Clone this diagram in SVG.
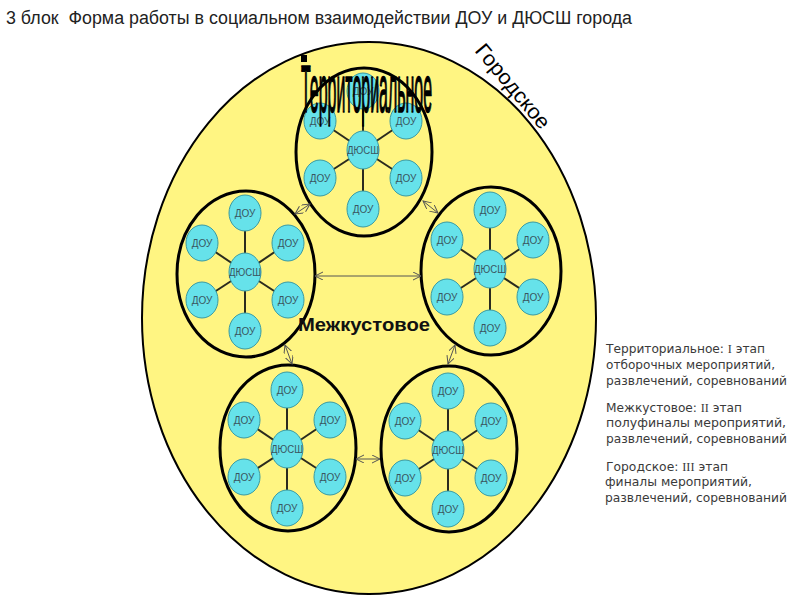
<svg xmlns="http://www.w3.org/2000/svg" width="800" height="600" viewBox="0 0 800 600">
<defs>
<style>
.bg{fill:#ffffff}
.city{fill:#fff582;stroke:#000;stroke-width:2}
.cluster{fill:#fff582;stroke:#000;stroke-width:3}
.node ellipse{fill:#66e2ea;stroke:#3a9aa2;stroke-width:1}
.node text{font-family:"Liberation Sans",Arial,sans-serif;font-size:10px;fill:#3a5560;text-anchor:middle}
.spoke{stroke:#2b2b1e;stroke-width:2}
.arrow{stroke:#555;stroke-width:1;fill:none;marker-start:url(#ah);marker-end:url(#ah)}
.legend{font-family:"DejaVu Sans",Verdana,sans-serif;font-size:12px;fill:#3a3a3a}
.rn{font-family:"Liberation Serif","Times New Roman",serif}
</style>
<marker id="ah" markerWidth="9" markerHeight="9" refX="8" refY="4" orient="auto-start-reverse" markerUnits="userSpaceOnUse">
<path d="M0,0 L8,4 L0,8" fill="none" stroke="#555" stroke-width="1"/>
</marker>
</defs>
<rect class="bg" x="0" y="0" width="800" height="600"/>
<text x="6" y="24" xml:space="preserve" font-family="Liberation Sans,Arial,sans-serif" font-size="18" fill="#222" textLength="626" lengthAdjust="spacingAndGlyphs">3 блок  Форма работы в социальном взаимодействии ДОУ и ДЮСШ города</text>

<g id="city">
<ellipse class="city" cx="369" cy="318" rx="227" ry="276"/>
</g>

<g id="clusters">
<ellipse id="cluster-top" class="cluster" cx="364" cy="152" rx="68" ry="84"/>
<ellipse id="cluster-left" class="cluster" cx="246" cy="274" rx="69" ry="83"/>
<ellipse id="cluster-right" class="cluster" cx="491" cy="271" rx="70" ry="84"/>
<ellipse id="cluster-bl" class="cluster" cx="288" cy="448" rx="68" ry="83"/>
<ellipse id="cluster-br" class="cluster" cx="449" cy="449" rx="68" ry="83"/>
</g>

<g id="connectors">
<g class="spokes">
<line class="spoke" x1="363" y1="150" x2="363" y2="91"/>
<line class="spoke" x1="363" y1="150" x2="320" y2="121"/>
<line class="spoke" x1="363" y1="150" x2="406" y2="121"/>
<line class="spoke" x1="363" y1="150" x2="320" y2="178"/>
<line class="spoke" x1="363" y1="150" x2="406" y2="178"/>
<line class="spoke" x1="363" y1="150" x2="363" y2="209"/>

<line class="spoke" x1="245" y1="272" x2="245" y2="213"/>
<line class="spoke" x1="245" y1="272" x2="202" y2="243"/>
<line class="spoke" x1="245" y1="272" x2="288" y2="243"/>
<line class="spoke" x1="245" y1="272" x2="202" y2="300"/>
<line class="spoke" x1="245" y1="272" x2="288" y2="300"/>
<line class="spoke" x1="245" y1="272" x2="245" y2="331"/>

<line class="spoke" x1="490" y1="269" x2="490" y2="210"/>
<line class="spoke" x1="490" y1="269" x2="447" y2="240"/>
<line class="spoke" x1="490" y1="269" x2="533" y2="240"/>
<line class="spoke" x1="490" y1="269" x2="447" y2="297"/>
<line class="spoke" x1="490" y1="269" x2="533" y2="297"/>
<line class="spoke" x1="490" y1="269" x2="490" y2="328"/>

<line class="spoke" x1="287" y1="449" x2="287" y2="390"/>
<line class="spoke" x1="287" y1="449" x2="244" y2="420"/>
<line class="spoke" x1="287" y1="449" x2="330" y2="420"/>
<line class="spoke" x1="287" y1="449" x2="244" y2="477"/>
<line class="spoke" x1="287" y1="449" x2="330" y2="477"/>
<line class="spoke" x1="287" y1="449" x2="287" y2="508"/>

<line class="spoke" x1="448" y1="450" x2="448" y2="391"/>
<line class="spoke" x1="448" y1="450" x2="405" y2="421"/>
<line class="spoke" x1="448" y1="450" x2="491" y2="421"/>
<line class="spoke" x1="448" y1="450" x2="405" y2="478"/>
<line class="spoke" x1="448" y1="450" x2="491" y2="478"/>
<line class="spoke" x1="448" y1="450" x2="448" y2="509"/>
</g>
<g class="arrows">
<line class="arrow" x1="295" y1="214" x2="310" y2="204"/>
<line class="arrow" x1="423" y1="201" x2="438" y2="213"/>
<line class="arrow" x1="315" y1="276" x2="421" y2="276"/>
<line class="arrow" x1="285" y1="345" x2="292" y2="364"/>
<line class="arrow" x1="455" y1="345" x2="448" y2="364"/>
<line class="arrow" x1="356" y1="459" x2="380" y2="459"/>
</g>
</g>

<g id="nodes-top">
<g id="t-dou-1" class="node" transform="translate(363,91)"><ellipse rx="16" ry="18"/><text y="4">ДОУ</text></g>
<g id="t-dou-2" class="node" transform="translate(320,121)"><ellipse rx="16" ry="18"/><text y="4">ДОУ</text></g>
<g id="t-dou-3" class="node" transform="translate(406,121)"><ellipse rx="16" ry="18"/><text y="4">ДОУ</text></g>
<g id="t-dyussh" class="node" transform="translate(363,150)"><ellipse rx="16" ry="19"/><text y="4" textLength="32" lengthAdjust="spacingAndGlyphs">ДЮСШ</text></g>
<g id="t-dou-4" class="node" transform="translate(320,178)"><ellipse rx="16" ry="18"/><text y="4">ДОУ</text></g>
<g id="t-dou-5" class="node" transform="translate(406,178)"><ellipse rx="16" ry="18"/><text y="4">ДОУ</text></g>
<g id="t-dou-6" class="node" transform="translate(363,209)"><ellipse rx="16" ry="18"/><text y="4">ДОУ</text></g>
</g>

<g id="nodes-left">
<g id="l-dou-1" class="node" transform="translate(245,213)"><ellipse rx="16" ry="18"/><text y="4">ДОУ</text></g>
<g id="l-dou-2" class="node" transform="translate(202,243)"><ellipse rx="16" ry="18"/><text y="4">ДОУ</text></g>
<g id="l-dou-3" class="node" transform="translate(288,243)"><ellipse rx="16" ry="18"/><text y="4">ДОУ</text></g>
<g id="l-dyussh" class="node" transform="translate(245,272)"><ellipse rx="16" ry="19"/><text y="4" textLength="32" lengthAdjust="spacingAndGlyphs">ДЮСШ</text></g>
<g id="l-dou-4" class="node" transform="translate(202,300)"><ellipse rx="16" ry="18"/><text y="4">ДОУ</text></g>
<g id="l-dou-5" class="node" transform="translate(288,300)"><ellipse rx="16" ry="18"/><text y="4">ДОУ</text></g>
<g id="l-dou-6" class="node" transform="translate(245,331)"><ellipse rx="16" ry="18"/><text y="4">ДОУ</text></g>
</g>

<g id="nodes-right">
<g id="r-dou-1" class="node" transform="translate(490,210)"><ellipse rx="16" ry="18"/><text y="4">ДОУ</text></g>
<g id="r-dou-2" class="node" transform="translate(447,240)"><ellipse rx="16" ry="18"/><text y="4">ДОУ</text></g>
<g id="r-dou-3" class="node" transform="translate(533,240)"><ellipse rx="16" ry="18"/><text y="4">ДОУ</text></g>
<g id="r-dyussh" class="node" transform="translate(490,269)"><ellipse rx="16" ry="19"/><text y="4" textLength="32" lengthAdjust="spacingAndGlyphs">ДЮСШ</text></g>
<g id="r-dou-4" class="node" transform="translate(447,297)"><ellipse rx="16" ry="18"/><text y="4">ДОУ</text></g>
<g id="r-dou-5" class="node" transform="translate(533,297)"><ellipse rx="16" ry="18"/><text y="4">ДОУ</text></g>
<g id="r-dou-6" class="node" transform="translate(490,328)"><ellipse rx="16" ry="18"/><text y="4">ДОУ</text></g>
</g>

<g id="nodes-bottom-left">
<g id="bl-dou-1" class="node" transform="translate(287,390)"><ellipse rx="16" ry="18"/><text y="4">ДОУ</text></g>
<g id="bl-dou-2" class="node" transform="translate(244,420)"><ellipse rx="16" ry="18"/><text y="4">ДОУ</text></g>
<g id="bl-dou-3" class="node" transform="translate(330,420)"><ellipse rx="16" ry="18"/><text y="4">ДОУ</text></g>
<g id="bl-dyussh" class="node" transform="translate(287,449)"><ellipse rx="16" ry="19"/><text y="4" textLength="32" lengthAdjust="spacingAndGlyphs">ДЮСШ</text></g>
<g id="bl-dou-4" class="node" transform="translate(244,477)"><ellipse rx="16" ry="18"/><text y="4">ДОУ</text></g>
<g id="bl-dou-5" class="node" transform="translate(330,477)"><ellipse rx="16" ry="18"/><text y="4">ДОУ</text></g>
<g id="bl-dou-6" class="node" transform="translate(287,508)"><ellipse rx="16" ry="18"/><text y="4">ДОУ</text></g>
</g>

<g id="nodes-bottom-right">
<g id="br-dou-1" class="node" transform="translate(448,391)"><ellipse rx="16" ry="18"/><text y="4">ДОУ</text></g>
<g id="br-dou-2" class="node" transform="translate(405,421)"><ellipse rx="16" ry="18"/><text y="4">ДОУ</text></g>
<g id="br-dou-3" class="node" transform="translate(491,421)"><ellipse rx="16" ry="18"/><text y="4">ДОУ</text></g>
<g id="br-dyussh" class="node" transform="translate(448,450)"><ellipse rx="16" ry="19"/><text y="4" textLength="32" lengthAdjust="spacingAndGlyphs">ДЮСШ</text></g>
<g id="br-dou-4" class="node" transform="translate(405,478)"><ellipse rx="16" ry="18"/><text y="4">ДОУ</text></g>
<g id="br-dou-5" class="node" transform="translate(491,478)"><ellipse rx="16" ry="18"/><text y="4">ДОУ</text></g>
<g id="br-dou-6" class="node" transform="translate(448,509)"><ellipse rx="16" ry="18"/><text y="4">ДОУ</text></g>
</g>

<g id="labels">
<rect x="301" y="55" width="6" height="7" fill="#000"/>
<text x="301" y="112" font-family="Liberation Sans,Arial,sans-serif" font-size="66" fill="#000" stroke="#000" stroke-width="1.6" textLength="131" lengthAdjust="spacingAndGlyphs">Территориальное</text>
<text transform="translate(474,51) rotate(50)" font-family="Liberation Sans,Arial,sans-serif" font-size="21" fill="#000" textLength="104" lengthAdjust="spacingAndGlyphs">Городское</text>
<text x="298" y="331" font-family="Liberation Sans,Arial,sans-serif" font-size="18" font-weight="bold" fill="#111" textLength="132" lengthAdjust="spacingAndGlyphs">Межкустовое</text>
</g>

<g id="legend" class="legend">
<text x="606" y="353" textLength="159" lengthAdjust="spacingAndGlyphs">Территориальное: <tspan class="rn">I</tspan> этап</text>
<text x="606" y="369" textLength="169" lengthAdjust="spacingAndGlyphs">отборочных мероприятий,</text>
<text x="606" y="385" textLength="181" lengthAdjust="spacingAndGlyphs">развлечений, соревнований</text>
<text x="606" y="412" textLength="136" lengthAdjust="spacingAndGlyphs">Межкустовое: <tspan class="rn">II</tspan> этап</text>
<text x="606" y="427" textLength="180" lengthAdjust="spacingAndGlyphs">полуфиналы мероприятий,</text>
<text x="606" y="443" textLength="181" lengthAdjust="spacingAndGlyphs">развлечений, соревнований</text>
<text x="606" y="471" textLength="122" lengthAdjust="spacingAndGlyphs">Городское: <tspan class="rn">III</tspan> этап</text>
<text x="605" y="486" textLength="147" lengthAdjust="spacingAndGlyphs">финалы мероприятий,</text>
<text x="605" y="502" textLength="182" lengthAdjust="spacingAndGlyphs">развлечений, соревнований</text>
</g>
</svg>
